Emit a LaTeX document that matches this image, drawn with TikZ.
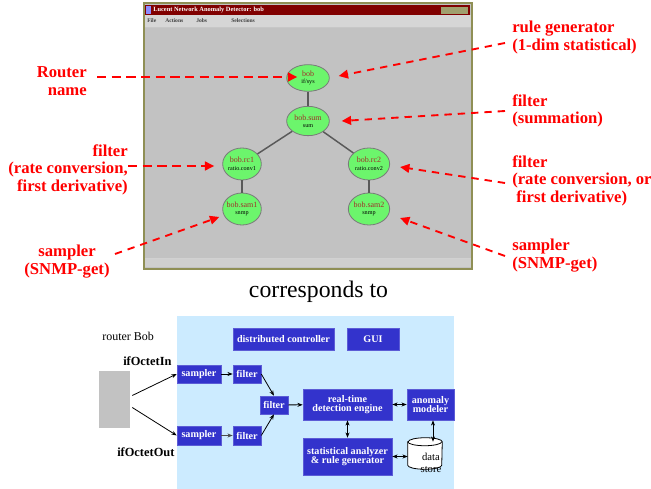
\documentclass[tikz,border=0pt]{standalone}
\usepackage{fontspec}
\setmainfont{Liberation Serif}
\usetikzlibrary{arrows.meta,shapes.geometric,calc}
\definecolor{wingray}{HTML}{C2C2C2}
\definecolor{winolive}{HTML}{8F8F55}
\definecolor{titlered}{HTML}{800000}
\definecolor{menugray}{HTML}{D6D6D6}
\definecolor{ellgreen}{HTML}{6CF56C}
\definecolor{ellborder}{HTML}{7A7A7A}
\definecolor{ellred}{HTML}{A0302A}
\definecolor{lightblue}{HTML}{CCEBFF}
\definecolor{boxblue}{HTML}{3333CC}
\definecolor{annred}{HTML}{FF0000}
\newcommand{\elltop}[1]{{\fontsize{6}{6.5}\selectfont\textcolor{ellred}{#1}}}
\begin{document}
\begin{tikzpicture}[x=0.75pt,y=-0.75pt,
  ell/.style={ellipse, draw=ellborder, line width=0.6pt, fill=ellgreen, inner ysep=0, inner xsep=-3pt,
    minimum width=32pt, minimum height=22pt, align=center,
    font=\fontsize{4.6}{5.6}\selectfont},
  treeedge/.style={draw=black!65, line width=1.1pt},
  ann/.style={text=annred, font=\bfseries\fontsize{12.5}{13.4}\selectfont, inner sep=0},
  thickarrow/.style={draw=annred, line width=2pt, dash pattern=on 7pt off 4pt,
    -{Triangle[length=7pt,width=6.5pt]}},
  thinarrow/.style={draw=annred, line width=1.4pt, dash pattern=on 5.5pt off 4.5pt,
    -{Triangle[length=7pt,width=6.5pt]}},
  box/.style={fill=boxblue, draw=boxblue!80!white, line width=0.4pt, text=white, inner sep=0, align=center,
    font=\bfseries\fontsize{7.6}{7}\selectfont},
  flow/.style={draw=black, line width=0.6pt, -{Stealth[length=4pt,width=3pt]}},
  flow2/.style={draw=black, line width=0.6pt, {Stealth[length=4pt,width=3pt]}-{Stealth[length=4pt,width=3pt]}},
  menu/.style={font=\bfseries\fontsize{4.2}{4.5}\selectfont, text=black!75, inner sep=0, anchor=west}
]
\useasboundingbox (0,0) rectangle (651,489);

% ---------------- window screenshot ----------------
\fill[winolive] (143,2) rectangle (473,270);
\fill[wingray] (145,4) rectangle (471,268);
\fill[titlered] (145,5) rectangle (470,15);
\fill[winolive!85!white] (441,6.5) rectangle (468,13.5);
\fill[blue!45!white] (146,6) rectangle (151,14);
\fill[menugray] (145,15) rectangle (471,27);
\fill[black!22] (145,26.5) rectangle (471,27.5);
\fill[black!18] (145,258) rectangle (471,259);
\fill[black!19] (145,259) rectangle (471,267);
\node[anchor=west, text=white, inner sep=0, font=\bfseries\fontsize{4.8}{5}\selectfont] (title) at (153,10) {Lucent Network Anomaly Detector: bob};
\node[menu] (mfile) at (147,21) {File};
\node[menu] (mact) at (165,21) {Actions};
\node[menu] (mjobs) at (196,21) {Jobs};
\node[menu] (msel) at (231,21) {Selections};

\node[ell, minimum width=32pt, minimum height=20pt] (bob) at (308,78) {\elltop{bob}\\if/sys};
\node[ell, minimum height=22pt] (sum) at (308,121) {\elltop{bob.sum}\\sum};
\node[ell, minimum width=29pt, minimum height=24pt] (rc1) at (242,164) {\elltop{bob.rc1}\\ratio.conv1};
\node[ell, minimum width=31pt, minimum height=24pt] (rc2) at (369,164) {\elltop{bob.rc2}\\ratio.conv2};
\node[ell, minimum width=29pt, minimum height=24pt] (sam1) at (242,209) {\elltop{bob.sam1}\\snmp};
\node[ell, minimum width=31pt, minimum height=24pt] (sam2) at (369,209) {\elltop{bob.sam2}\\snmp};
\draw[treeedge] (bob) -- (sum);
\draw[treeedge] (sum) -- (rc1);
\draw[treeedge] (sum) -- (rc2);
\draw[treeedge] (rc1) -- (sam1);
\draw[treeedge] (rc2) -- (sam2);

% ---------------- red annotations ----------------
\node[ann, align=right, anchor=north east] (rn) at (87,66) {Router\\name};
\node[ann, align=right, anchor=north east] (lf) at (128,144) {filter\\(rate conversion,\\first derivative)};
\node[ann, align=center, anchor=north] (ls) at (67,245) {sampler\\(SNMP-get)};
\node[ann, align=left, anchor=north west] (rg) at (512,21) {rule generator\\(1-dim statistical)};
\node[ann, align=left, anchor=north west] (rs) at (512,94) {filter\\(summation)};
\node[ann, align=left, anchor=north west] (rf) at (512,155) {filter\\(rate conversion, or\\\hspace{0.25em}first derivative)};
\node[ann, align=left, anchor=north west] (rsm) at (512,239) {sampler\\(SNMP-get)};

\draw[thickarrow] ($(rn.north east)+(10,11)$) -- ($(bob.west)+(11,-1)$);
\draw[thickarrow] ($(lf.north east)+(0,22)$) -- ($(rc1.west)+(-8,2)$);
\draw[thinarrow] ($(ls.north)+(48,9)$) -- ($(sam1.west)+(-3,8)$);
\draw[thinarrow] ($(rg.north west)+(-7,22)$) -- ($(bob.east)+(9,-2)$);
\draw[thinarrow] ($(rs.north west)+(-7,17)$) -- ($(sum.east)+(12,0)$);
\draw[thinarrow] ($(rf.north west)+(-7,28)$) -- ($(rc2.east)+(10,3)$);
\draw[thinarrow] ($(rsm.north west)+(-7,17)$) -- ($(sam2.east)+(10,9)$);

% ---------------- corresponds to ----------------
\node[anchor=base, inner sep=0, font=\fontsize{17.8}{20}\selectfont] (corr) at (318.5,297) {corresponds to};

% ---------------- bottom diagram ----------------
\fill[lightblue] (177,316) rectangle (454,489);
\node[anchor=base west, inner sep=0, font=\fontsize{9}{10}\selectfont] (rbob) at (102,340) {router Bob};
\node[fill=wingray, minimum width=23.25pt, minimum height=42.75pt, inner sep=0] (router) at (114.5,399.5) {};
\node[anchor=base west, inner sep=0, font=\bfseries\fontsize{9.3}{10}\selectfont] (oin) at (123,365) {ifOctetIn};
\node[anchor=base west, inner sep=0, font=\bfseries\fontsize{9.3}{10}\selectfont] (oout) at (117,456) {ifOctetOut};

\node[box, minimum width=75.75pt, minimum height=16.5pt] (dc) at (283.5,339) {distributed controller};
\node[box, minimum width=39pt, minimum height=16.5pt] (gui) at (373,339) {GUI};
\node[box, minimum width=33pt, minimum height=13.5pt] (s1) at (199,374) {sampler};
\node[box, minimum width=21pt, minimum height=13.5pt] (f1) at (247,374) {filter};
\node[box, minimum width=21pt, minimum height=13.5pt] (fm) at (274,405) {filter};
\node[box, minimum width=33pt, minimum height=14pt] (s2) at (199,435.5) {sampler};
\node[box, minimum width=21pt, minimum height=14pt] (f2) at (247,435.5) {filter};
\node[box, minimum width=66.75pt, minimum height=23.25pt] (rt) at (347.5,404.5) {real-time\\detection engine};
\node[box, minimum width=35.25pt, minimum height=23.25pt] (am) at (430.5,404.5) {anomaly\\modeler};
\node[box, minimum width=66.75pt, minimum height=27.75pt] (sa) at (347.5,456.5) {statistical analyzer\\\&\ rule generator};

\node[minimum width=25.5pt, minimum height=23.25pt, inner sep=0] (ds) at (425,453.5) {};
\draw[line width=0.6pt, fill=white] ($(ds.north west)+(0,4)$) -- ($(ds.south west)+(0,-4)$)
  arc[start angle=180, end angle=360, x radius=12.75pt, y radius=3pt]
  -- ($(ds.north east)+(0,4)$)
  arc[start angle=0, end angle=180, x radius=12.75pt, y radius=3pt] -- cycle;
\draw[line width=0.6pt] ($(ds.north west)+(0,4)$) arc[start angle=180, end angle=360, x radius=12.75pt, y radius=3pt];
\node[inner sep=0, align=center, font=\fontsize{8}{8.5}\selectfont] (dstext) at (431,463) {data\\store};

\draw[flow] ($(router.east)+(2,-4)$) -- (s1.west);
\draw[flow] ($(router.east)+(2,8)$) -- (s2.west);
\draw[flow] (s1) -- (f1);
\draw[flow, line width=1pt, draw=black!70] (s2) -- (f2);
\draw[flow] (f1.east) -- (fm.north);
\draw[flow] (f2.east) -- (fm.south);
\draw[flow] (fm) -- (rt);
\draw[flow2] (rt) -- (am);
\draw[flow2] (rt) -- (sa);
\draw[flow2] (sa.east) -- ($(ds.west)+(0,3)$);
\draw[flow2] ($(am.south)+(2.5,0)$) -- ($(ds.north)+(8,4)$);
\end{tikzpicture}
\end{document}
